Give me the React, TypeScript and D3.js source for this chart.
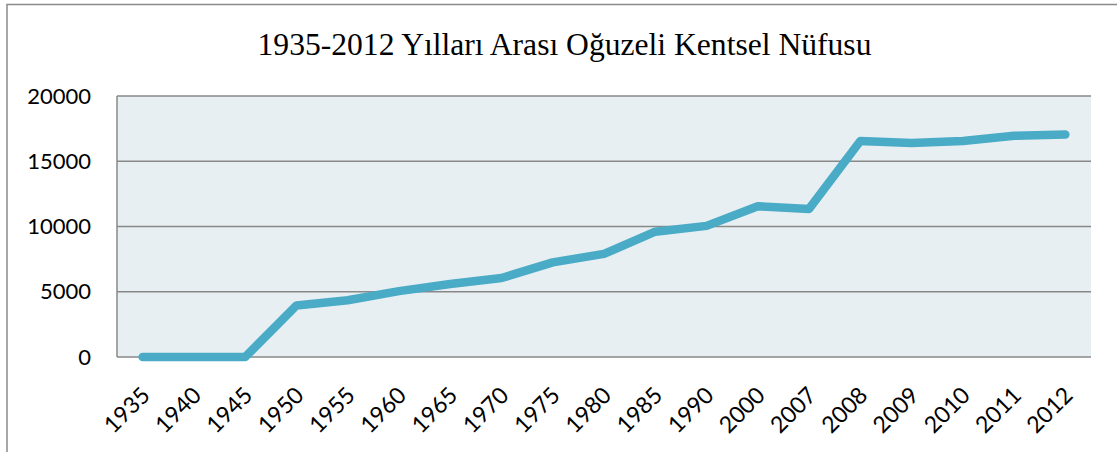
import React from "react";
import * as d3 from "d3";

const years = ["1935","1940","1945","1950","1955","1960","1965","1970","1975","1980","1985","1990","2000","2007","2008","2009","2010","2011","2012"];
const population = [0,0,0,3950,4350,5050,5600,6050,7250,7900,9600,10050,11550,11350,16550,16400,16550,16950,17050];
const yTicks = [0,5000,10000,15000,20000];
const title = "1935-2012 Yılları Arası Oğuzeli Kentsel Nüfusu";

const W = 1117, H = 452;
const plot = { left: 117, right: 1091, top: 96, bottom: 357 };

export default function App() {
  const x = d3.scaleBand<string>().domain(years).range([plot.left, plot.right]).padding(0);
  const y = d3.scaleLinear().domain([0, 20000]).range([plot.bottom, plot.top]);
  const line = d3.line<number>()
    .x((_, i) => (x(years[i]) as number) + x.bandwidth() / 2)
    .y((d) => y(d));
  const sans = "Lato, 'Open Sans', sans-serif";
  return (
    <svg width={W} height={H} style={{ position: "absolute", left: 0, top: 0, background: "#fff" }}>
      <rect x={7} y={4.5} width={W + 10} height={H + 10} fill="#fff" stroke="#8a8a8a" strokeWidth={1.5} />
      <text x={564.5} y={55} textAnchor="middle" fontFamily="'Liberation Serif', 'Times New Roman', serif" fontSize={31.6} fill="#000">{title}</text>
      <rect x={plot.left} y={plot.top} width={plot.right - plot.left} height={plot.bottom - plot.top} fill="#e8eff3" />
      {yTicks.map((t) => (
        <line key={t} x1={plot.left} x2={plot.right} y1={y(t)} y2={y(t)} stroke="#888" strokeWidth={1.5} />
      ))}
      <line x1={plot.left} x2={plot.left} y1={plot.top} y2={plot.bottom} stroke="#888" strokeWidth={1.5} />
      {yTicks.map((t) => (
        <text key={t} x={91} y={y(t)} dy="0.35em" textAnchor="end" fontFamily={sans} fontSize={22} fill="#000">{t}</text>
      ))}
      {years.map((yr) => {
        const cx = (x(yr) as number) + x.bandwidth() / 2;
        return (
          <text key={yr} transform={`translate(${cx + 3},${391}) rotate(-45)`} textAnchor="end" dy="0.35em" fontFamily={sans} fontSize={23} fill="#000">{yr}</text>
        );
      })}
      <path d={line(population) || ""} fill="none" stroke="#4aabc6" strokeWidth={8.5} strokeLinecap="round" strokeLinejoin="round" />
    </svg>
  );
}
